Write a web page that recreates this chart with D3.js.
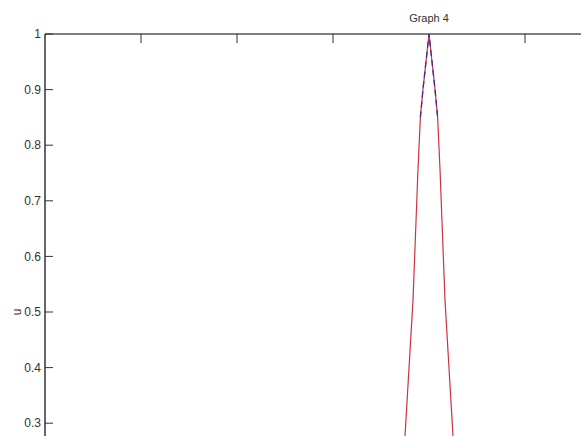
<!DOCTYPE html>
<html>
<head>
<meta charset="utf-8">
<title>Graph 4</title>
<script src="https://d3js.org/d3.v7.min.js"></script>
<style>
  body { margin: 0; background: #fff; overflow: hidden; }
  svg { display: block; }
  text { font-family: "Liberation Sans Narrow", "Arial Narrow", "Liberation Sans", Arial, sans-serif; fill: #333; }
</style>
</head>
<body>
<svg id="chart"></svg>
<script>
// values (x in axis units, u = membership)
const xTicks = [0, 1, 2, 3, 4, 5];
const yTicks = [1, 0.9, 0.8, 0.7, 0.6, 0.5, 0.4, 0.3];
const redX = [3.735, 3.75, 3.833, 3.885, 3.91, 3.937, 4.0, 4.063, 4.09, 4.115, 4.167, 4.25, 4.265];
const redU = [0.25, 0.277, 0.52, 0.755, 0.85, 0.90, 1.0, 0.90, 0.85, 0.755, 0.52, 0.277, 0.25];
const blueX = [3.91, 3.937, 4.0, 4.063, 4.09];
const blueU = [0.85, 0.90, 1.0, 0.90, 0.85];
const title = "Graph 4";
const yLabel = "u";

const W = 581, H = 436;
const margin = {left: 45, top: 34};

const svg = d3.select("#chart").attr("width", W).attr("height", H);

const x = d3.scaleLinear().domain([0, 5]).range([margin.left, 525]);
const y = d3.scaleLinear().domain([0, 1]).range([590, margin.top]);

// box lines (top and left)
svg.append("line")
  .attr("x1", margin.left).attr("x2", W + 10)
  .attr("y1", y(1)).attr("y2", y(1))
  .attr("stroke", "#000").attr("stroke-width", 1.2);
svg.append("line")
  .attr("x1", margin.left).attr("x2", margin.left)
  .attr("y1", y(1)).attr("y2", H + 10)
  .attr("stroke", "#000").attr("stroke-width", 1.2);

// top ticks, pointing inward
svg.append("g").selectAll("line")
  .data(xTicks.slice(1))
  .join("line")
  .attr("x1", d => x(d)).attr("x2", d => x(d))
  .attr("y1", y(1)).attr("y2", y(1) + 9)
  .attr("stroke", "#333").attr("stroke-width", 1);

// y ticks + labels
const yg = svg.append("g");
yg.selectAll("line")
  .data(yTicks)
  .join("line")
  .attr("x1", margin.left).attr("x2", margin.left + 8)
  .attr("y1", d => y(d)).attr("y2", d => y(d))
  .attr("stroke", "#333").attr("stroke-width", 1);
yg.selectAll("text")
  .data(yTicks)
  .join("text")
  .attr("x", margin.left - 4)
  .attr("y", d => y(d))
  .attr("dy", "0.35em")
  .attr("text-anchor", "end")
  .attr("font-size", 12)
  .text(d => d3.format("")(d));

// title and y label
svg.append("text")
  .attr("x", x(4)).attr("y", 22)
  .attr("text-anchor", "middle")
  .attr("font-size", 11)
  .text(title);
svg.append("text")
  .attr("transform", "translate(21," + y(0.5) + ") rotate(-90)")
  .attr("text-anchor", "middle")
  .attr("font-size", 12)
  .text(yLabel);

// curves
const line = d3.line().x(d => x(d[0])).y(d => y(d[1]));
svg.append("path")
  .datum(d3.zip(redX, redU))
  .attr("d", line)
  .attr("fill", "none")
  .attr("stroke", "#cc3340")
  .attr("stroke-width", 1.2);
svg.append("path")
  .datum(d3.zip(blueX, blueU))
  .attr("d", line)
  .attr("fill", "none")
  .attr("stroke", "#3a2a9a")
  .attr("stroke-width", 1.3)
  .attr("stroke-dasharray", "6,4");
</script>
</body>
</html>
